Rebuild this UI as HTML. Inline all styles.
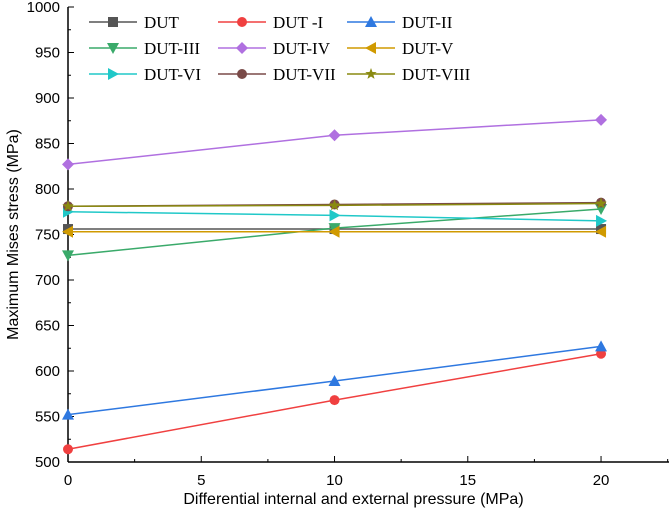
<!DOCTYPE html>
<html><head><meta charset="utf-8"><style>body{margin:0;background:#fff}svg{display:block}text{font-family:"Liberation Sans",sans-serif}</style></head>
<body>
<svg id="c" width="669" height="511"></svg>
<script>
const xs=[0,10,20];
const names=["DUT","DUT -I","DUT-II","DUT-III","DUT-IV","DUT-V","DUT-VI","DUT-VII","DUT-VIII"];
const sDUT=[756,756,756];
const sI=[514,568,619];
const sII=[552,589,627];
const sIII=[727,757,778];
const sIV=[827,859,876];
const sV=[753,753,753];
const sVI=[775,771,765];
const sVII=[781,783,785];
const sVIII=[781,782,784];
const xTicks=[0,5,10,15,20];
const yTicks=[500,550,600,650,700,750,800,850,900,950,1000];
const series=[sDUT,sI,sII,sIII,sIV,sV,sVI,sVII,sVIII];
const colors=["#555555","#f04040","#2e78e0","#3aaa6a","#b070e0","#d09a00","#20c8c8","#7a4a48","#8a8a10"];
const markers=["square","circle","up","down","diamond","left","right","circle","star"];
const L=68,R=669,T=7,B=462,XMAX=22.55;
const X=v=>L+v/XMAX*(R-L), Y=v=>B-(v-500)/500*(B-T);
const svg=document.getElementById('c');const NS="http://www.w3.org/2000/svg";
function mk(t,a,p){const e=document.createElementNS(NS,t);for(const k in a)e.setAttribute(k,a[k]);(p||svg).appendChild(e);return e;}
function marker(type,x,y,c,g){let e;
 if(type=="square")e=mk('rect',{x:x-5,y:y-5,width:10,height:10,fill:c},g);
 else if(type=="circle")e=mk('circle',{cx:x,cy:y,r:5,fill:c},g);
 else{let p;
  if(type=="up")p=[[0,-6],[6,5],[-6,5]];
  else if(type=="down")p=[[0,6],[6,-5],[-6,-5]];
  else if(type=="left")p=[[-6,0],[5,-6],[5,6]];
  else if(type=="right")p=[[6,0],[-5,-6],[-5,6]];
  else if(type=="diamond")p=[[0,-6],[6,0],[0,6],[-6,0]];
  else{p=[];for(let i=0;i<10;i++){const r=i%2?2.5:6,a=-Math.PI/2+i*Math.PI/5;p.push([r*Math.cos(a),r*Math.sin(a)]);}}
  e=mk('polygon',{points:p.map(q=>(x+q[0])+','+(y+q[1])).join(' '),fill:c},g);}
 return e;}
const ax=mk('g',{});


mk('line',{x1:L,y1:T,x2:L,y2:B,stroke:'#000','stroke-width':1.5},ax);
mk('line',{x1:L,y1:B,x2:R,y2:B,stroke:'#000','stroke-width':1.5},ax);
yTicks.forEach(v=>{mk('line',{x1:L,y1:Y(v),x2:L+6,y2:Y(v),stroke:'#000'},ax);
 const t=mk('text',{x:L-8,y:Y(v)+5,'text-anchor':'end','font-size':15},ax);t.textContent=v;
 });
for(let v=525;v<1000;v+=50)mk('line',{x1:L,y1:Y(v),x2:L+3,y2:Y(v),stroke:'#000'},ax);
xTicks.forEach(v=>{mk('line',{x1:X(v),y1:B,x2:X(v),y2:B-6,stroke:'#000'},ax);
 const t=mk('text',{x:X(v),y:B+23,'text-anchor':'middle','font-size':15},ax);t.textContent=v;
 });
for(let v=2.5;v<22.6;v+=5)mk('line',{x1:X(v),y1:B,x2:X(v),y2:B-3,stroke:'#000'},ax);
let t=mk('text',{x:(L+R)/2-15,y:504,'text-anchor':'middle','font-size':16});t.textContent="Differential internal and external pressure (MPa)";

t=mk('text',{x:0,y:0,'text-anchor':'middle','font-size':16,transform:`translate(18,${(T+B)/2}) rotate(-90)`});t.textContent="Maximum Mises stress (MPa)";

series.forEach((s,i)=>{const g=mk('g',{});
 
 
 mk('polyline',{points:s.map((v,j)=>X(xs[j])+','+Y(v)).join(' '),fill:'none',stroke:colors[i],'stroke-width':1.5},g);
 s.forEach((v,j)=>marker(markers[i],X(xs[j]),Y(v),colors[i],g));});
const lg=mk('g',{});


names.forEach((n,i)=>{const col=i%3,row=Math.floor(i/3);const x0=89+col*129,y0=22+row*26;
 const e=mk('g',{},lg);
 
 
 mk('line',{x1:x0,y1:y0,x2:x0+48,y2:y0,stroke:colors[i],'stroke-width':1.5},e);
 marker(markers[i],x0+24,y0,colors[i],e);
 const tt=mk('text',{x:x0+55,y:y0+6,'font-size':17},e);
 tt.style.fontFamily='"Liberation Serif",serif';tt.textContent=n;});
</script>
</body></html>
